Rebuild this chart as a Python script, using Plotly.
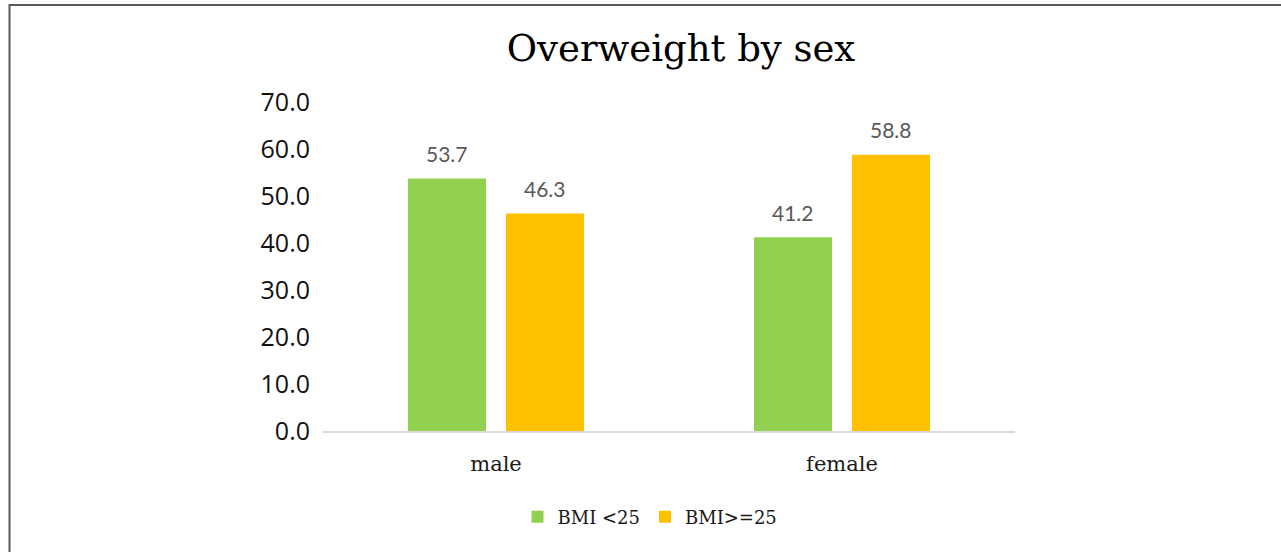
import plotly.graph_objects as go

categories = ["male", "female"]
series_names = ["BMI <25", "BMI>=25"]
bmi_under_25 = [53.7, 41.2]
bmi_25_plus = [46.3, 58.8]
y_ticks = [0, 10, 20, 30, 40, 50, 60, 70]
colors = ["#92D050", "#FFC000"]

W, H = 1281, 552
L, R, T, B = 323, 1015, 102, 431
SERIF = "DejaVu Serif, Liberation Serif, serif"

fig = go.Figure()
for name, vals, col in zip(series_names, [bmi_under_25, bmi_25_plus], colors):
    fig.add_trace(go.Bar(name=name, x=categories, y=vals, marker_color=col,
                         marker_line_width=0))

# data labels via annotations positioned on data coordinates
for vals, shift in [(bmi_under_25, -49), (bmi_25_plus, 49)]:
    for c, v in zip(categories, vals):
        fig.add_annotation(x=c, y=v, xref="x", yref="y", text=f"{v:.1f}",
                           showarrow=False, xshift=shift, yshift=25,
                           font=dict(family="Lato, Open Sans, sans-serif", size=21, color="#595959"))

pw, ph = R - L, B - T
fig.add_shape(type="rect", xref="paper", yref="paper",
              x0=(9.5 - L) / pw, x1=(W + 20 - L) / pw,
              y0=(B - (H + 20)) / ph, y1=(B - 5) / ph,
              line=dict(color="#595959", width=2), fillcolor="rgba(0,0,0,0)", layer="above")

fig.update_layout(
    width=W, height=H,
    margin=dict(l=L, r=W - R, t=T, b=H - B, autoexpand=False),
    paper_bgcolor="white", plot_bgcolor="white",
    barmode="group", bargap=0.4335, bargroupgap=0.204,
    title=dict(text="Overweight by sex", x=681 / W, xanchor="center", xref="container",
               y=1 - 48 / H, yanchor="middle", yref="container",
               font=dict(family=SERIF, size=37, color="#000000")),
    xaxis=dict(showline=True, linecolor="#D9D9D9", linewidth=1.5, ticks="",
               tickfont=dict(family=SERIF, size=21, color="#1a1a1a"),
               ticklabelstandoff=13, showgrid=False),
    yaxis=dict(range=[0, 70], tickvals=y_ticks, tickformat=".1f", showgrid=False, zeroline=False,
               showline=False, ticks="", ticklabelstandoff=12,
               tickfont=dict(family="Open Sans, Noto Sans, sans-serif", size=25, color="#111111")),
    legend=dict(orientation="h", x=650 / W, xref="container", xanchor="center",
                y=1 - 517 / H, yref="container", yanchor="middle",
                font=dict(family=SERIF, size=18, color="#1a1a1a"),
                itemwidth=30, traceorder="normal"),
    showlegend=True,
)

fig.write_html("out.html")
